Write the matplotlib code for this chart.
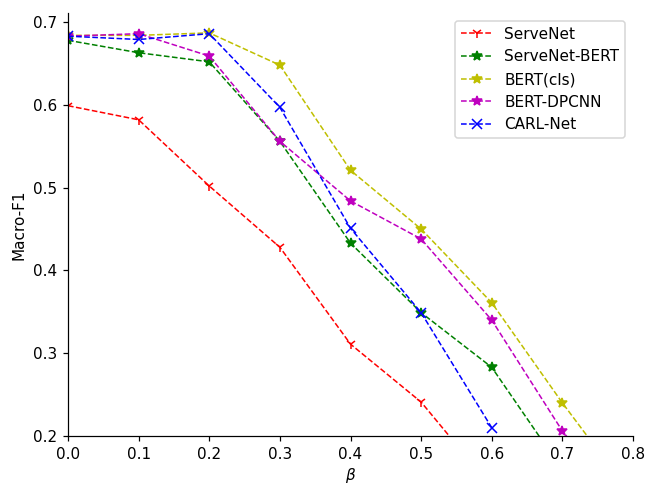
import matplotlib
matplotlib.use("Agg")
import matplotlib.pyplot as plt

beta = [0.0, 0.1, 0.2, 0.3, 0.4, 0.5, 0.6, 0.7, 0.8]

servenet = [0.599, 0.582, 0.502, 0.428, 0.311, 0.241, 0.138]
servenet_bert = [0.678, 0.663, 0.652, 0.556, 0.433, 0.349, 0.283, 0.159]
bert_cls = [0.684, 0.684, 0.687, 0.648, 0.521, 0.450, 0.361, 0.240, 0.126]
bert_dpcnn = [0.683, 0.686, 0.659, 0.556, 0.484, 0.438, 0.340, 0.206, 0.10]
carl_net = [0.683, 0.679, 0.686, 0.597, 0.451, 0.349, 0.210]

dpi = 110
fig = plt.figure(figsize=(649 / dpi, 484 / dpi), dpi=dpi)
ax = fig.add_axes([68 / 649, 48 / 484, 565 / 649, 423 / 484])

ms = 7
ax.plot(beta[:len(servenet)], servenet, "r--", marker="1", markersize=ms, linewidth=1, label="ServeNet")
ax.plot(beta[:len(servenet_bert)], servenet_bert, "g--", marker="*", markersize=ms, linewidth=1, label="ServeNet-BERT")
ax.plot(beta[:len(bert_cls)], bert_cls, "y--", marker="*", markersize=ms, linewidth=1, label="BERT(cls)")
ax.plot(beta[:len(bert_dpcnn)], bert_dpcnn, "m--", marker="*", markersize=ms, linewidth=1, label="BERT-DPCNN")
ax.plot(beta[:len(carl_net)], carl_net, "b--", marker="x", markersize=ms, linewidth=1, label="CARL-Net")

ax.set_xlim(0, 0.8)
ax.set_ylim(0.2, 0.711)
ax.set_xlabel(r"$\beta$", labelpad=3)
ax.set_ylabel("Macro-F1")
ax.spines["top"].set_visible(False)
ax.spines["right"].set_visible(False)
ax.legend(loc="upper right")

fig.savefig("out.png", dpi=dpi)
